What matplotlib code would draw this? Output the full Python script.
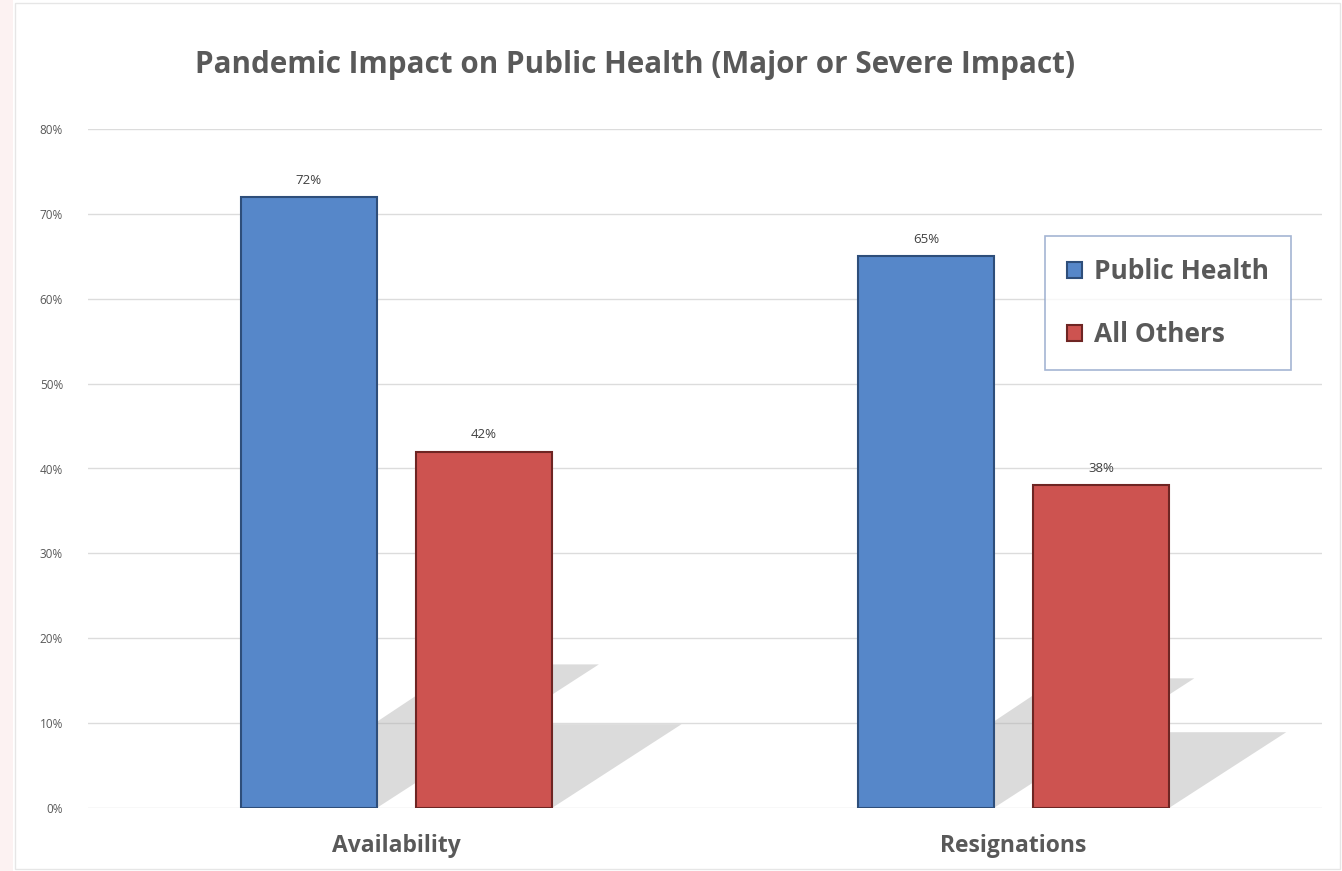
import matplotlib
matplotlib.use("Agg")
import matplotlib.pyplot as plt
from matplotlib.patches import Polygon, Rectangle
from matplotlib.ticker import PercentFormatter
import numpy as np

categories = ["Availability", "Resignations"]
public_health = [0.72, 0.65]
all_others = [0.42, 0.38]
series_names = ["Public Health", "All Others"]
y_ticks = [0.0, 0.1, 0.2, 0.3, 0.4, 0.5, 0.6, 0.7, 0.8]

blue = "#5687C9"
blue_edge = "#2E4E7A"
red = "#CD5350"
red_edge = "#6E2523"
text_gray = "#595959"

plt.rcParams["font.family"] = ["Open Sans", "DejaVu Sans"]

fig = plt.figure(figsize=(13.42, 8.71), dpi=100)
fig.patch.set_facecolor("white")
fig.patches.append(Rectangle((15 / 1342, 2 / 871), 1325 / 1342, 866 / 871,
                             transform=fig.transFigure, fill=False,
                             edgecolor="#e6e6e6", linewidth=1))
fig.patches.append(Rectangle((0, 0), 13 / 1342, 1,
                             transform=fig.transFigure, facecolor="#fcf2f2",
                             edgecolor="none"))

ax = fig.add_axes([88 / 1342, (871 - 808) / 871, (1322 - 88) / 1342, (808 - 129) / 871])
x = np.arange(len(categories))
width = 0.22
offset = 0.142

def draw_shadow(xc, v):
    left = xc - width / 2
    right = xc + width / 2
    h = 0.235 * v
    s = 0.5 * v
    poly = Polygon([(left + 0.01, 0), (right, 0), (right + s, h), (left + s, h)],
                   closed=True, facecolor="#b0b0b0", edgecolor="none", alpha=0.45, zorder=1)
    ax.add_patch(poly)

for i in range(len(categories)):
    draw_shadow(x[i] - offset, public_health[i])
    draw_shadow(x[i] + offset, all_others[i])

b1 = ax.bar(x - offset, public_health, width, color=blue, edgecolor=blue_edge,
            linewidth=1.5, zorder=3, label=series_names[0])
b2 = ax.bar(x + offset, all_others, width, color=red, edgecolor=red_edge,
            linewidth=1.5, zorder=3, label=series_names[1])

for bars in (b1, b2):
    for r in bars:
        ax.text(r.get_x() + r.get_width() / 2, r.get_height() + 0.012,
                f"{r.get_height() * 100:.0f}%", ha="center", va="bottom",
                fontsize=9.5, color="#404040", zorder=4)

ax.set_xlim(-0.5, 1.5)
ax.set_ylim(0, 0.8)
ax.set_yticks(y_ticks)
ax.yaxis.set_major_formatter(PercentFormatter(1.0, decimals=0))
ax.set_xticks(x)
ax.set_xticklabels(categories, fontsize=16.5, fontweight="bold", color=text_gray)
ax.tick_params(axis="y", labelsize=8.5, labelcolor=text_gray, length=0, pad=18)
ax.tick_params(axis="x", length=0, pad=19)
ax.grid(axis="y", color="#dcdcdc", linewidth=1, zorder=0)
ax.set_axisbelow(True)
for sp in ax.spines.values():
    sp.set_visible(False)

fig.text(635 / 1342, 1 - 65 / 871, "Pandemic Impact on Public Health (Major or Severe Impact)",
         ha="center", va="center", fontsize=21.3, fontweight="bold", color=text_gray)

leg = ax.legend(loc="upper left", bbox_to_anchor=((1045 - 88) / 1234, (808 - 236) / 679),
                fontsize=19, frameon=True, fancybox=False, handlelength=0.55,
                handleheight=0.55, handletextpad=0.45, labelspacing=1.35,
                borderpad=0.85, borderaxespad=0)
leg.get_frame().set_edgecolor("#8ea3c8")
leg.get_frame().set_linewidth(1.2)
for t in leg.get_texts():
    t.set_color(text_gray)
    t.set_fontweight("bold")

fig.savefig("out.png", dpi=100)
